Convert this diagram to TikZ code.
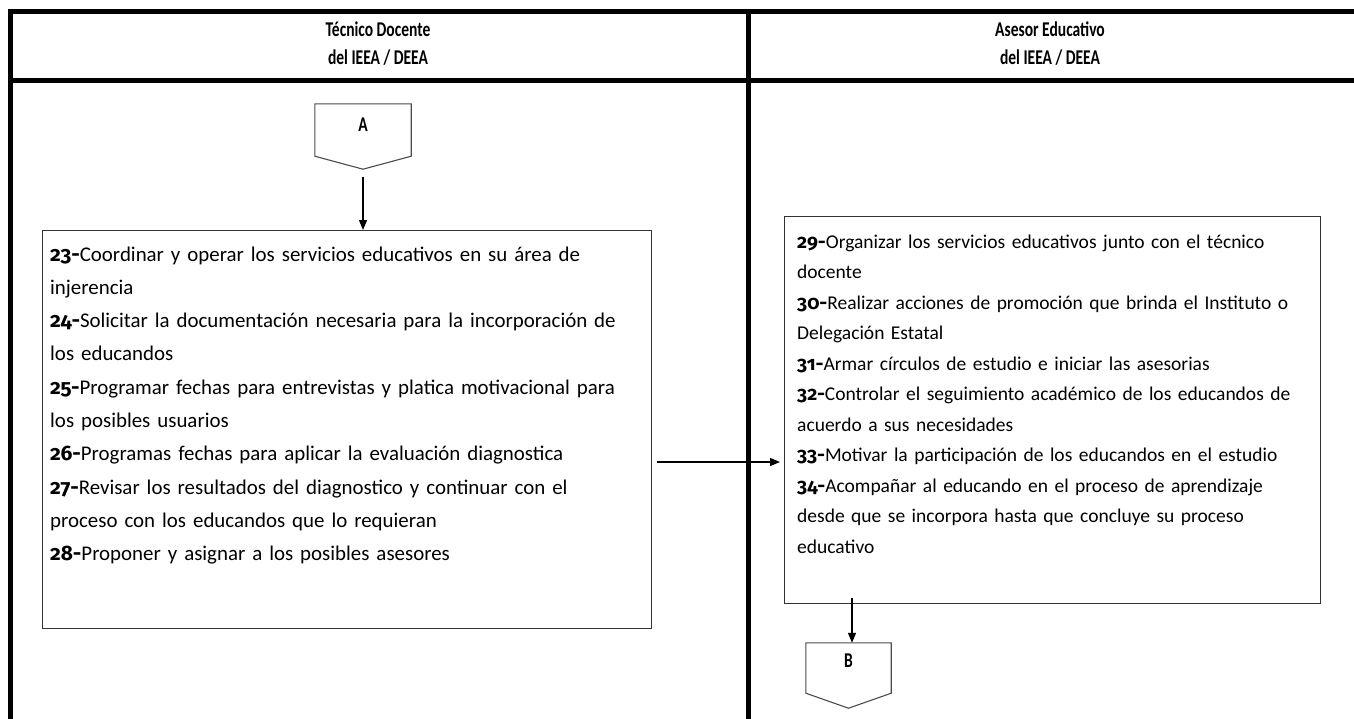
\documentclass[tikz,border=0pt]{standalone}
\usepackage{fontspec}
\setmainfont{Carlito}
\newfontfamily\hdrfont{Carlito}[FakeStretch=0.74]
\newfontfamily\numfont{Fira Sans}[Numbers=OldStyle]
\newcommand\itemnum[1]{{\numfont\bfseries #1-}}
\usetikzlibrary{arrows.meta,calc}
\tikzset{
  frame/.style={line width=5pt, line cap=rect},
  box/.style={draw=black!80, line width=1.4pt, inner sep=0pt, anchor=north west},
  txt/.style={inner sep=0pt, anchor=base west, align=left, text width=#1,
    font=\fontsize{20.9}{33.3}\selectfont},
  hdr/.style={align=center, inner sep=0pt, font=\hdrfont\bfseries\fontsize{21}{28}\selectfont},
  conn/.style={inner sep=0pt, minimum width=#1, minimum height=50pt},
  connline/.style={draw=black!70, line width=1.1pt, line join=miter},
  connlab/.style={font=\hdrfont\bfseries\fontsize{21}{22}\selectfont, inner sep=0pt},
  arr/.style={-{Triangle[length=10pt,width=8pt]}, line width=1.2pt}
}
\begin{document}
\begin{tikzpicture}[x=1pt,y=-1pt]
\useasboundingbox (0,0) rectangle (1354,718);
\fill[white] (0,0) rectangle (1354,718);
% frame
\draw[frame] (10,11.5) -- (1354,11.5);
\draw[frame] (10,80) -- (1354,80);
\draw[frame] (10,11.5) -- (10,718);
\draw[frame] (748,11.5) -- (748,718);
% headers
\node[hdr] (h1) at (378,44) {Técnico Docente\\del IEEA / DEEA};
\node[hdr] (h2) at (1050,44) {Asesor Educativo\\del IEEA / DEEA};
% connector A
\node[conn=96pt, minimum height=52pt] (A) at (363,130) {};
\draw[connline] (A.north west) -- (A.north east) -- (A.south east) -- ($(A.south)+(0,13)$) -- (A.south west) -- cycle;
\node[connlab] (Al) at (363,125) {A};
% left box
\node[box, minimum width=609pt, minimum height=398pt] (L) at (42,230) {};
\node[txt=598pt] (Lt) at (50,261) {%
\itemnum{23}Coordinar y operar los servicios educativos en su área de\\
injerencia\\
\itemnum{24}Solicitar la documentación necesaria para la incorporación de\\
los educandos\\
\itemnum{25}Programar fechas para entrevistas y platica motivacional para\\
los posibles usuarios\\
\itemnum{26}Programas fechas para aplicar la evaluación diagnostica\\
\itemnum{27}Revisar los resultados del diagnostico y continuar con el\\
proceso con los educandos que lo requieran\\
\itemnum{28}Proponer y asignar a los posibles asesores};
% right box
\node[box, minimum width=536pt, minimum height=387pt] (R) at (784,216) {};
\node[txt=520pt, font=\fontsize{19.5}{30.5}\selectfont] (Rt) at (797,248) {%
\itemnum{29}Organizar los servicios educativos junto con el técnico\\
docente\\
\itemnum{30}Realizar acciones de promoción que brinda el Instituto o\\
Delegación Estatal\\
\itemnum{31}Armar círculos de estudio e iniciar las asesorias\\
\itemnum{32}Controlar el seguimiento académico de los educandos de\\
acuerdo a sus necesidades\\
\itemnum{33}Motivar la participación de los educandos en el estudio\\
\itemnum{34}Acompañar al educando en el proceso de aprendizaje\\
desde que se incorpora hasta que concluye su proceso\\
educativo};
% connector B
\node[conn=85pt] (B) at (848.5,668) {};
\draw[connline] (B.north west) -- (B.north east) -- (B.south east) -- ($(B.south)+(0,15)$) -- (B.south west) -- cycle;
\node[connlab] (Bl) at (848.5,661) {B};
% arrows
\coordinate (As) at ($(A.south)+(0,21)$);
\draw[arr] (As) -- (As |- L.north);
\coordinate (Hs) at (657,462);
\draw[arr, shorten >=4pt] (Hs) -- (Hs -| R.west);
\coordinate (Bs) at (852,598);
\draw[arr] (Bs) -- (Bs |- B.north);
\end{tikzpicture}
\end{document}
